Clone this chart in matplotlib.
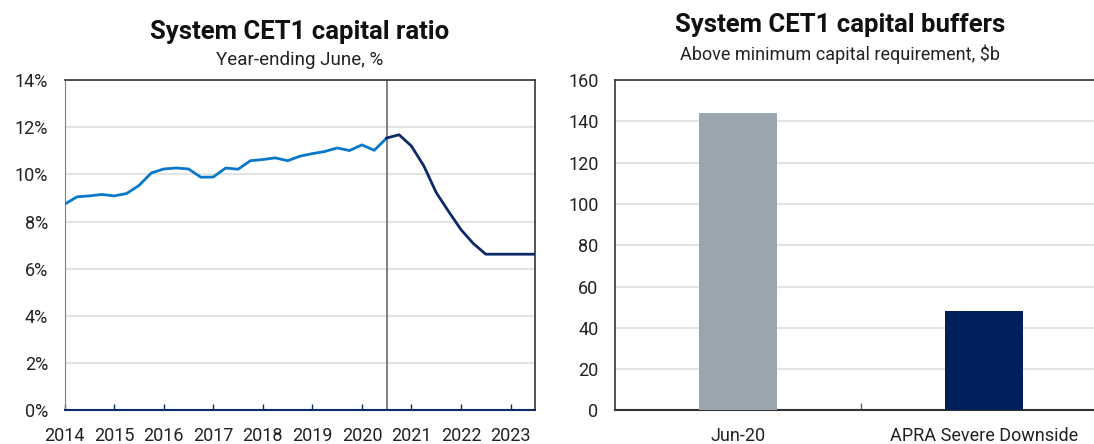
"""
System CET1 capital ratio and capital buffers - two panel chart
"""
import numpy as np
import matplotlib
matplotlib.use('Agg')
import matplotlib.pyplot as plt

plt.rcParams['font.family'] = ['Roboto', 'DejaVu Sans']

# Quarterly CET1 ratio, % (history to Jun-20, then APRA severe downside scenario)
hist_ratio = [8.74, 9.05, 9.09, 9.15, 9.09, 9.19, 9.53, 10.06, 10.23, 10.27,
              10.23, 9.88, 9.89, 10.27, 10.22, 10.58, 10.63, 10.70, 10.58,
              10.77, 10.88, 10.97, 11.12, 11.01, 11.25, 11.02, 11.54]
proj_ratio = [11.54, 11.68, 11.20, 10.36, 9.23, 8.43, 7.66, 7.07, 6.62,
              6.62, 6.62, 6.62, 6.62]
hist_start = 2014.0
proj_start = 2020.5
years = list(range(2014, 2024))

# Capital buffers above minimum requirement, $b
buffer_labels = ['Jun-20', 'APRA Severe Downside']
buffer_values = [144.0, 48.3]

LIGHT_BLUE = '#0a78c8'
NAVY = '#0c2a66'
BAR_GREY = '#9aa5ae'
BAR_NAVY = '#001f5b'
GRID = '#e3e3e3'
TICK_SIZE = 13

fig = plt.figure(figsize=(10.94, 4.44), dpi=100)

# ---- left panel: ratio ----
ax1 = fig.add_axes([0.0591, 0.0755, 0.4302, 0.7444])
x_hist = hist_start + 0.25 * np.arange(len(hist_ratio))
x_proj = proj_start + 0.25 * np.arange(len(proj_ratio))
ax1.plot(x_hist, hist_ratio, color=LIGHT_BLUE, lw=2, zorder=3)
ax1.plot(x_proj, proj_ratio, color=NAVY, lw=2, zorder=3)
ax1.axvline(proj_start, color='#6b6b6b', lw=1.2, zorder=2)
ax1.set_xlim(2014, 2023.5)
ax1.set_ylim(0, 14)
ax1.set_yticks(range(0, 15, 2))
ax1.set_yticklabels([f'{v}%' for v in range(0, 15, 2)])
ax1.set_xticks(years)
ax1.set_xticklabels([str(y) for y in years])
ax1.grid(axis='y', color=GRID, lw=1.5, zorder=0)
ax1.set_axisbelow(True)
ax1.tick_params(axis='y', length=0, pad=12, labelsize=TICK_SIZE, colors='#222222')
ax1.tick_params(axis='x', direction='in', length=4, width=1, color=NAVY,
                pad=12, labelsize=TICK_SIZE, labelcolor='#222222')
ax1.spines['left'].set_color('#808080')
ax1.spines['bottom'].set_color(NAVY)
ax1.spines['bottom'].set_linewidth(1.5)
for s in ('top', 'right'):
    ax1.spines[s].set_color('#333333')
    ax1.spines[s].set_linewidth(1.2)

fig.text(0.274, 0.928, 'System CET1 capital ratio', ha='center', va='center',
         fontsize=18.5, fontweight='bold', color='#111111')
fig.text(0.274, 0.865, 'Year-ending June, %', ha='center', va='center',
         fontsize=13.5, color='#222222')

# ---- right panel: buffers ----
ax2 = fig.add_axes([0.5622, 0.0755, 0.4497, 0.7444])
ax2.bar([0, 1], buffer_values, width=0.32, color=[BAR_GREY, BAR_NAVY], zorder=3)
ax2.set_xlim(-0.5, 1.5)
ax2.set_ylim(0, 160)
ax2.set_yticks(range(0, 161, 20))
ax2.set_xticks([0, 1])
ax2.set_xticklabels(buffer_labels)
ax2.set_xticks([0.5], minor=True)
ax2.grid(axis='y', color=GRID, lw=1.5, zorder=0)
ax2.set_axisbelow(True)
ax2.tick_params(axis='y', length=0, pad=12, labelsize=TICK_SIZE, colors='#222222')
ax2.tick_params(axis='x', which='major', length=0, pad=12, labelsize=TICK_SIZE,
                labelcolor='#222222')
ax2.tick_params(axis='x', which='minor', direction='in', length=5, width=1,
                color='#666666')
for s in ('top', 'left', 'bottom'):
    ax2.spines[s].set_color('#333333')
    ax2.spines[s].set_linewidth(1.2)
ax2.spines['bottom'].set_linewidth(1.5)

fig.text(0.768, 0.943, 'System CET1 capital buffers', ha='center', va='center',
         fontsize=18.5, fontweight='bold', color='#111111')
fig.text(0.768, 0.878, 'Above minimum capital requirement, $b', ha='center',
         va='center', fontsize=13, color='#222222')

fig.savefig('out.png', dpi=100)
